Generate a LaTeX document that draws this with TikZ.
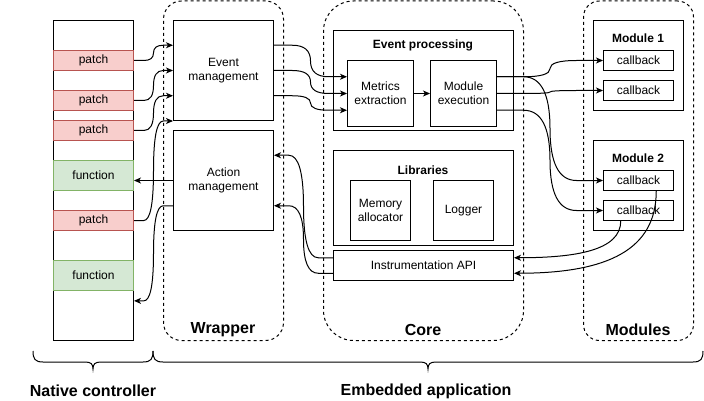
\documentclass[tikz,border=0pt]{standalone}
\usepackage{fontspec}
\setmainfont{Liberation Sans}
\usetikzlibrary{arrows.meta,calc}
\begin{document}
\begin{tikzpicture}[x=1pt,y=-1pt,line width=1pt,
  box/.style={draw,fill=white,line width=1pt,inner sep=0pt,align=center,anchor=north west,
    font=\fontsize{12}{14}\selectfont},
  patchbox/.style={box,fill=patchfill,draw=patchline,minimum width=80pt,minimum height=20pt},
  funcbox/.style={box,fill=funcfill,draw=funcline,minimum width=80pt,minimum height=30pt},
  cbbox/.style={box,minimum width=70pt,minimum height=20pt},
  cont/.style={draw,dash pattern=on 3pt off 3pt,line width=1pt,inner sep=0pt,anchor=north west},
  bigtitle/.style={font=\fontsize{16}{19}\selectfont\bfseries,inner sep=0pt},
  smalltitle/.style={font=\fontsize{12}{14}\selectfont\bfseries,inner sep=0pt},
  conn/.style={draw,line width=1pt,-{Stealth[length=7pt,width=6pt,inset=2pt]}},
  dio/.style={to path={let \p1=(\tikztostart), \p2=(\tikztotarget) in
    -- ({0.75*\x1+0.25*\x2},\y1)
    .. controls ({0.5833*\x1+0.4167*\x2},\y1) and ({0.5*\x1+0.5*\x2},{0.8333*\y1+0.1667*\y2})
    .. ({0.5*\x1+0.5*\x2},{0.5*\y1+0.5*\y2})
    .. controls ({0.5*\x1+0.5*\x2},{0.1667*\y1+0.8333*\y2}) and ({0.4167*\x1+0.5833*\x2},\y2)
    .. ({0.25*\x1+0.75*\x2},\y2)
    -- (\tikztotarget)}}
]
\definecolor{patchfill}{HTML}{F8CECC}
\definecolor{patchline}{HTML}{B85450}
\definecolor{funcfill}{HTML}{D5E8D4}
\definecolor{funcline}{HTML}{82B366}
\useasboundingbox (0,0) rectangle (704,401);

% containers
\node[cont,rounded corners=18pt,minimum width=120pt,minimum height=339.5pt] (wrap) at (163,0.5) {};
\node[cont,rounded corners=30pt,minimum width=200pt,minimum height=339.5pt] (core) at (323,0.5) {};
\node[cont,rounded corners=16pt,minimum width=110pt,minimum height=339.5pt] (mods) at (583,0.5) {};
\node[bigtitle] (wraplbl) at (223,330) {Wrapper};
\node[bigtitle] (corelbl) at (423,330) {Core};
\node[bigtitle] (modslbl) at (638,330) {Modules};

% native controller
\node[box,minimum width=80pt,minimum height=320pt] (nc) at (53,20) {};
\node[patchbox] (p1) at (53,50) {patch};
\node[patchbox] (p2) at (53,90) {patch};
\node[patchbox] (p3) at (53,120) {patch};
\node[funcbox] (f1) at (53,160) {function};
\node[patchbox] (p4) at (53,210) {patch};
\node[funcbox] (f2) at (53,260) {function};

% wrapper
\node[box,minimum width=100pt,minimum height=100pt] (em) at (173,20) {Event\\management};
\node[box,minimum width=100pt,minimum height=100pt] (am) at (173,130) {Action\\management};

% core
\node[box,minimum width=180pt,minimum height=100pt] (ep) at (333,30) {};
\node[smalltitle] (eptitle) at (423,45) {Event processing};
\node[box,minimum width=66pt,minimum height=66pt] (mx) at (347,60) {Metrics\\extraction};
\node[box,minimum width=66pt,minimum height=66pt] (me) at (430,60) {Module\\execution};
\node[box,minimum width=180pt,minimum height=95pt] (lib) at (333,150) {};
\node[smalltitle] (libtitle) at (423,170) {Libraries};
\node[box,minimum width=60pt,minimum height=60pt] (mem) at (350,180) {Memory\\allocator};
\node[box,minimum width=60pt,minimum height=60pt] (log) at (433,180) {Logger};
\node[box,minimum width=180pt,minimum height=30pt] (api) at (333,250) {Instrumentation API};

% modules
\node[box,minimum width=90pt,minimum height=90pt] (m1) at (593,20) {};
\node[smalltitle] (m1title) at (638,38) {Module 1};
\node[cbbox] (cb1) at (603,50) {callback};
\node[cbbox] (cb2) at (603,80) {callback};
\node[box,minimum width=90pt,minimum height=90pt] (m2) at (593,140) {};
\node[smalltitle] (m2title) at (638,158) {Module 2};
\node[cbbox] (cb3) at (603,170) {callback};
\node[cbbox] (cb4) at (603,200) {callback};

% anchor points
\foreach \f/\n in {0.25/1,0.5/2,0.75/3,1/4}
  \coordinate (emL\n) at ($(em.north west)!\f!(em.south west)$);
\foreach \f/\n in {0.25/1,0.5/2,0.75/3}{
  \coordinate (emR\n) at ($(em.north east)!\f!(em.south east)$);
  \coordinate (mxL\n) at ($(mx.north west)!\f!(mx.south west)$);
  \coordinate (meR\n) at ($(me.north east)!\f!(me.south east)$);
  \coordinate (amL\n) at ($(am.north west)!\f!(am.south west)$);
  \coordinate (amR\n) at ($(am.north east)!\f!(am.south east)$);
  \coordinate (apiL\n) at ($(api.north west)!\f!(api.south west)$);
  \coordinate (apiR\n) at ($(api.north east)!\f!(api.south east)$);
}
\coordinate (ncR) at ($(nc.north east)!0.875!(nc.south east)$);
\coordinate (cb4b) at ($(cb4.south west)!0.25!(cb4.south east)$);
\coordinate (cb3b) at ($(cb3.south west)!0.75!(cb3.south east)$);

% connectors
\path[conn] (p1.east) to[dio] (emL1);
\path[conn] (p2.east) to[dio] (emL2);
\path[conn] (p3.east) to[dio] (emL3);
\path[conn] (p4.east) to[dio] (emL4);
\path[conn] (amL2) -- (amL2 -| f1.east);
\path[conn] (amL3) to[dio] (ncR);
\path[conn] (emR1) to[dio] (mxL1);
\path[conn] (emR2) to[dio] (mxL2);
\path[conn] (emR3) to[dio] (mxL3);
\path[conn] (mx.east) -- (me.west);
\path[conn] (meR1) to[dio] (cb1.west);
\path[conn] (meR2) to[dio] (cb2.west);
\path[conn] (meR1) to[dio] (cb3.west);
\path[conn] (meR3) to[dio] (cb4.west);
\path[conn] (cb4b) .. controls +(0,30) and +(60,0) .. (apiR1);
\path[conn] (cb3b) .. controls +(0,58) and +(95,0) .. (apiR3);
\path[conn] (apiL1) to[dio] (amR1);
\path[conn] (apiL3) to[dio] (amR3);

% braces
\draw (33,351) .. controls (33,359) and (35,362) .. (43,362) -- (85,362)
  .. controls (91,362) and (93,364) .. (93,369)
  .. controls (93,364) and (95,362) .. (101,362) -- (143,362)
  .. controls (151,362) and (153,359) .. (153,351);
\draw (153,351) .. controls (153,359) and (155,362) .. (163,362) -- (420,362)
  .. controls (426,362) and (428,364) .. (428,369)
  .. controls (428,364) and (430,362) .. (436,362) -- (693,362)
  .. controls (701,362) and (703,359) .. (703,351);
\node[bigtitle] (nclbl) at (93,391) {Native controller};
\node[bigtitle] (ealbl) at (426,391) {Embedded application};
\end{tikzpicture}
\end{document}
